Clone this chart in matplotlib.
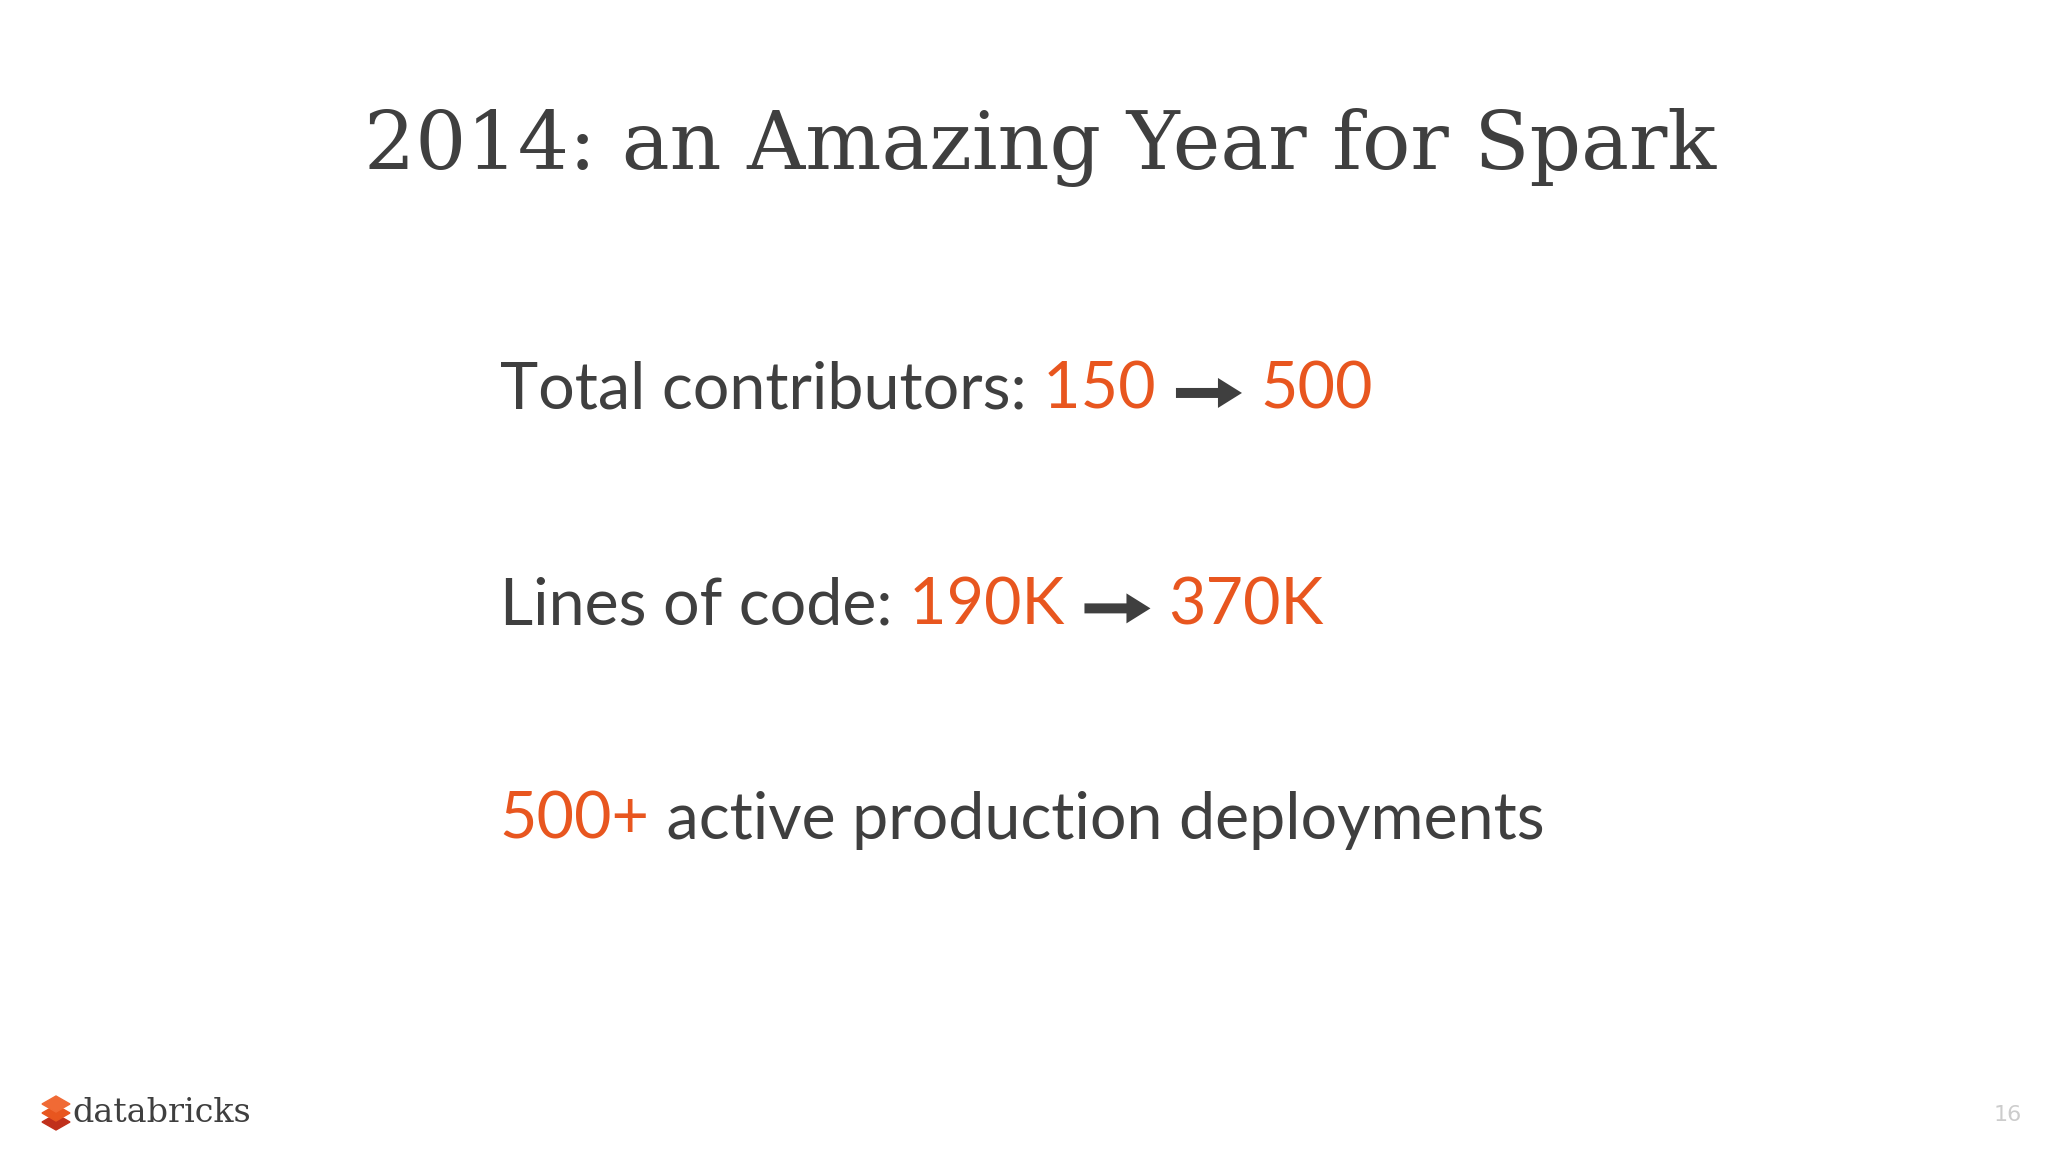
import matplotlib
matplotlib.use("Agg")
import matplotlib.pyplot as plt
from matplotlib.patches import Polygon, FancyArrow

title = "2014: an Amazing Year for Spark"
contrib_label = "Total contributors: "
contrib_vals = ["150", "500"]
loc_label = "Lines of code: "
loc_vals = ["190K", "370K"]
deploy_val = "500+"
deploy_label = " active production deployments"
page_num = "16"

DARK = "#3f3f3f"
ORANGE = "#e8561f"

fig = plt.figure(figsize=(20.48, 11.52), dpi=100)
fig.patch.set_facecolor("white")
r = fig.canvas.get_renderer()
ax = fig.add_axes([0, 0, 1, 1], facecolor="none")
ax.set_xlim(0, 2048); ax.set_ylim(0, 1152); ax.axis("off")

fig.text(0.508, 0.872, title, ha="center", va="center", fontsize=58,
         family="DejaVu Serif", color=DARK)

W = fig.bbox.width
def seq(x, y, parts, size=46.5):
    for s, c in parts:
        if s == "ARROW":
            px = x * W + 4
            py = y * 1152 + 16
            ax.add_patch(FancyArrow(px, py, 66, 0, width=10, head_width=30,
                                    head_length=24, length_includes_head=True,
                                    color=DARK, lw=0))
            x += 88 / W
            continue
        t = fig.text(x, y, s, ha="left", va="baseline", fontsize=size,
                     family="Lato", color=c)
        bb = t.get_window_extent(r)
        x += bb.width / W

x0 = 0.244
seq(x0, 0.645, [(contrib_label, DARK), (contrib_vals[0] + " ", ORANGE),
                ("ARROW", DARK), (contrib_vals[1], ORANGE)])
seq(x0, 0.458, [(loc_label, DARK), (loc_vals[0] + " ", ORANGE),
                ("ARROW", DARK), (loc_vals[1], ORANGE)])
seq(x0, 0.272, [(deploy_val, ORANGE), (deploy_label, DARK)])

# logo
for dy, col in [(0, "#c0301b"), (9, "#e8561f"), (18, "#f06a35")]:
    ax.add_patch(Polygon([(42, 1152-1122+dy), (56, 1152-1130+dy), (70, 1152-1122+dy),
                          (56, 1152-1114+dy)], closed=True, color=col))
fig.text(72/2048, 1 - 1113/1152, "databricks", ha="left", va="center", fontsize=24,
         family="DejaVu Serif", color=DARK)
fig.text(2008/2048, 1 - 1115/1152, page_num, ha="center", va="center", fontsize=16,
         color="#cccccc")
fig.savefig("out.png", dpi=100, facecolor="white")
